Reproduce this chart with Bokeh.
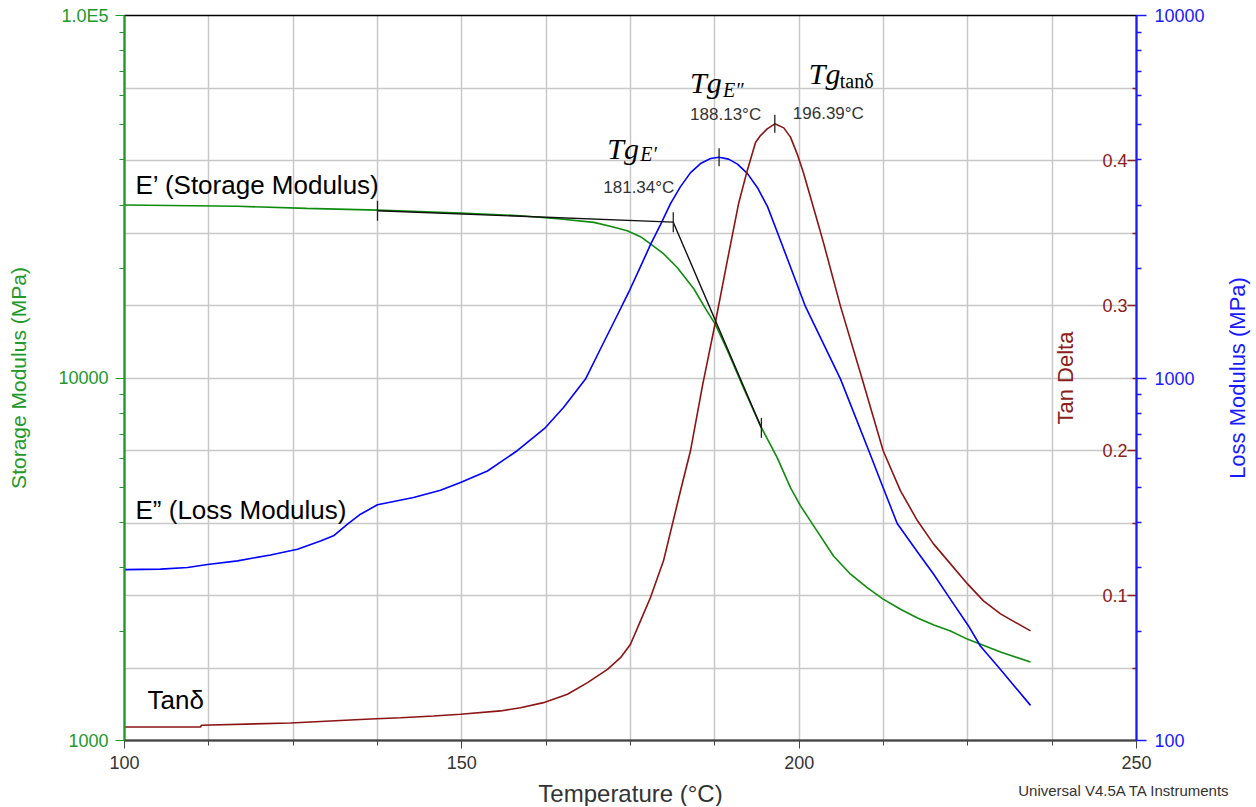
import math
from bokeh.plotting import figure
from bokeh.models import (Range1d, LinearAxis, LogAxis, LogScale, LinearScale,
                          FixedTicker, Grid, Label)
from bokeh.embed import file_html
from bokeh.resources import INLINE

# ---------------- data ----------------
storage_T = [100.0, 116.75, 126.98, 137.5, 149.8, 158.7, 164.62, 169.56, 172.0, 174.51,
             176.48, 177.96, 179.93, 181.92, 184.38, 186.12, 187.60, 189.38, 191.75, 194.27,
             196.74, 198.71, 200.2, 201.93, 205.09, 207.61, 210.13, 212.45, 215.02, 217.54,
             219.96, 222.43, 225.0, 226.43, 229.84, 234.29]
storage_E = [30000, 29760, 29380, 29040, 28490, 28040, 27460, 26870, 26230, 25490,
             24540, 23430, 21990, 20180, 17630, 15530, 14030, 11890, 9395, 7379,
             6029, 4985, 4440, 3966, 3229, 2875, 2635, 2455, 2301, 2178,
             2084, 2005, 1901, 1858, 1754, 1647]

loss_T = [100.0, 105.34, 109.34, 112.30, 116.75, 121.64, 125.64, 129.05, 130.98, 133.06,
          134.98, 137.50, 138.98, 142.84, 146.84, 149.80, 153.80, 158.21, 162.40, 165.07,
          168.33, 171.00, 172.78, 174.70, 176.48, 177.96, 179.45, 180.93, 182.41, 183.90,
          185.38, 186.86, 188.13, 189.53, 190.86, 192.34, 193.82, 195.31, 196.79, 200.94,
          206.13, 210.32, 212.45, 214.53, 217.54, 219.91, 222.18, 225.10, 226.88, 229.59,
          234.29]
loss_E = [296, 297, 300, 306, 313, 325, 337, 355, 367, 395,
          421, 447, 453, 468, 490, 515, 554, 630, 730, 829,
          993, 1251, 1457, 1719, 2028, 2332, 2649, 3027, 3372, 3686,
          3904, 4030, 4063, 4016, 3890, 3663, 3350, 2970, 2517, 1573,
          993, 630, 498, 397, 331, 288, 249, 207, 182, 159,
          125]

tan_T = [100.0, 111.26, 111.41, 124.6, 136.46, 140.91, 145.80, 149.80, 155.73, 158.70,
         162.10, 165.66, 168.63, 171.59, 173.52, 175.0, 176.48, 177.96, 179.89, 182.41,
         183.89, 185.67, 187.60, 189.38, 191.05, 192.30, 193.53, 194.27, 195.26, 196.39,
         197.72, 198.71, 199.70, 200.68, 201.68, 202.67, 203.65, 206.13, 209.34, 212.45,
         215.02, 217.54, 219.91, 222.43, 224.95, 227.32, 229.84, 234.29]
tan_delta = [0.0093, 0.0093, 0.0105, 0.0121, 0.0148, 0.0157, 0.0169, 0.0181, 0.0204, 0.0226,
             0.0261, 0.0319, 0.0399, 0.0491, 0.0571, 0.0664, 0.0825, 0.0986, 0.1239, 0.1722,
             0.1998, 0.2447, 0.2888, 0.3316, 0.3709, 0.3930, 0.4124, 0.4172, 0.4218, 0.4253,
             0.4225, 0.4161, 0.4046, 0.3908, 0.3747, 0.3586, 0.3425, 0.2994, 0.2493, 0.1998,
             0.1722, 0.1515, 0.1356, 0.1218, 0.1080, 0.0963, 0.0873, 0.0756]

# onset (tangent) construction on E'
onset_T = [137.5, 181.34, 194.4]
onset_E = [28940, 26910, 7285]

tg_storage = 181.34
tg_loss = 188.13
tg_tan = 196.39
loss_peak = 4063
tan_peak = 0.4253

x_ticks = [100, 150, 200, 250]
x_minor = [112.5, 125, 137.5, 162.5, 175, 187.5, 212.5, 225, 237.5]
x_grid = [112.5, 125, 137.5, 150, 162.5, 175, 187.5, 200, 212.5, 225, 237.5]
storage_ticks = [1000, 10000, 100000]
storage_tick_labels = ["1000", "10000", "1.0E5"]
loss_ticks = [100, 1000, 10000]
loss_tick_labels = ["100", "1000", "10000"]
tan_ticks = [0.1, 0.2, 0.3, 0.4]
tan_tick_labels = ["0.1", "0.2", "0.3", "0.4"]
tan_minor = [0.05, 0.15, 0.25, 0.35, 0.45]
tan_limits = [0.0, 0.5]

footer_text = "Universal V4.5A TA Instruments"

# ---------------- layout: the Bokeh frame fills the canvas, the chart box sits inside ----
W, H = 1256, 806
BOX_L, BOX_R, BOX_T, BOX_B = 124, 1136, 15, 740
t0, t1 = x_ticks[0], x_ticks[-1]
s0, s1 = storage_ticks[0], storage_ticks[-1]
l0, l1 = loss_ticks[0], loss_ticks[-1]
per_px_x = (t1 - t0) / (BOX_R - BOX_L)
dec_per_px = math.log10(s1 / s0) / (BOX_B - BOX_T)
tan_per_px = (tan_limits[1] - tan_limits[0]) / (BOX_B - BOX_T)
x_rng = Range1d(t0 - BOX_L * per_px_x, t1 + (W - BOX_R) * per_px_x)
y_rng = Range1d(s0 / 10 ** ((H - BOX_B) * dec_per_px), s1 * 10 ** (BOX_T * dec_per_px))
loss_rng = Range1d(l0 / 10 ** ((H - BOX_B) * dec_per_px), l1 * 10 ** (BOX_T * dec_per_px))
tan_rng = Range1d(tan_limits[0] - (H - BOX_B) * tan_per_px, tan_limits[1] + BOX_T * tan_per_px)

# ---------------- styles ----------------
GREEN = "#0e8c0e"
GREEN_AX = "#22992a"
BLUE = "#0000ff"
BLUE_AX = "#1a1aff"
RED = "#8b1414"
RED_AX = "#8b2020"
GRAY = "#333333"
GRID = "#c8c8c8"
FONT = "Liberation Sans"
SERIF = "Liberation Serif"

p = figure(width=W, height=H, x_range=x_rng, y_range=y_rng, y_axis_type="log",
           output_backend="svg", toolbar_location=None,
           min_border_left=0, min_border_right=0, min_border_top=0, min_border_bottom=0)
p.extra_y_ranges = {"loss": loss_rng, "tan": tan_rng}
p.extra_y_scales = {"loss": LogScale(), "tan": LinearScale()}
p.outline_line_color = None
p.background_fill_color = "white"
p.border_fill_color = "white"

# grids, limited to the chart box
p.xgrid.ticker = FixedTicker(ticks=x_grid)
p.xgrid.cross_bounds = (s0, s1)
p.xgrid.grid_line_color = GRID
p.xgrid.grid_line_width = 1.5
p.ygrid.visible = False
tan_grid = Grid(dimension=1, y_range_name="tan",
                ticker=FixedTicker(ticks=sorted(tan_ticks + tan_minor)),
                cross_bounds=(t0, t1),
                grid_line_color=GRID, grid_line_width=1.5)
p.add_layout(tan_grid)

# chart box border
p.quad(left=[t0], right=[t1], bottom=[s0], top=[s1], fill_color=None,
       line_color="black", line_width=1.5)

# bottom axis
xa = p.xaxis[0]
xa.fixed_location = s0
xa.bounds = (t0, t1)
xa.ticker = FixedTicker(ticks=x_ticks, minor_ticks=x_minor)
xa.axis_line_color = "#444444"
xa.axis_line_width = 2
xa.major_tick_line_color = "#444444"
xa.minor_tick_line_color = "#444444"
xa.major_tick_out = 8
xa.major_tick_in = 0
xa.minor_tick_out = 5
xa.minor_tick_in = 0
xa.major_label_text_font = FONT
xa.major_label_text_font_size = "18px"
xa.major_label_text_color = GRAY
xa.major_label_standoff = 7

# left axis: storage modulus
ya = p.yaxis[0]
ya.fixed_location = t0
ya.bounds = (s0, s1)
ya.ticker = FixedTicker(ticks=storage_ticks,
                        minor_ticks=[m * d for d in (1000, 10000) for m in range(2, 10)])
ya.major_label_overrides = dict(zip(storage_ticks, storage_tick_labels))
ya.axis_line_color = GREEN_AX
ya.axis_line_width = 2
ya.major_tick_line_color = GREEN_AX
ya.minor_tick_line_color = GREEN_AX
ya.major_tick_out = 9
ya.major_tick_in = 0
ya.minor_tick_out = 5
ya.minor_tick_in = 0
ya.major_label_text_font = FONT
ya.major_label_text_font_size = "18px"
ya.major_label_text_color = GREEN_AX
ya.major_label_standoff = 7

# tan delta axis at the right edge, labels inside the box
tan_axis = LinearAxis(y_range_name="tan", fixed_location=t1, bounds=tuple(tan_limits),
                      ticker=FixedTicker(ticks=tan_ticks, minor_ticks=tan_minor),
                      major_label_overrides=dict(zip(tan_ticks, tan_tick_labels)),
                      axis_line_color=None,
                      major_tick_out=9, major_tick_in=0, minor_tick_out=4, minor_tick_in=0,
                      major_tick_line_color=RED_AX, minor_tick_line_color=RED_AX,
                      major_tick_line_width=1.5, minor_tick_line_width=1.5,
                      major_label_text_font=FONT, major_label_text_font_size="18px",
                      major_label_text_color=RED_AX, major_label_standoff=0)
p.add_layout(tan_axis, "left")

# loss modulus axis at the right edge
loss_axis = LogAxis(y_range_name="loss", fixed_location=t1, bounds=(l0, l1),
                    ticker=FixedTicker(ticks=loss_ticks,
                                       minor_ticks=[m * d for d in (100, 1000) for m in range(2, 10)]),
                    major_label_overrides=dict(zip(loss_ticks, loss_tick_labels)),
                    axis_line_color=BLUE_AX, axis_line_width=2,
                    major_tick_out=10, major_tick_in=0, minor_tick_out=5, minor_tick_in=0,
                    major_tick_line_color=BLUE_AX, minor_tick_line_color=BLUE_AX,
                    major_tick_line_width=1.5, minor_tick_line_width=1.5,
                    major_label_text_font=FONT, major_label_text_font_size="18px",
                    major_label_text_color=BLUE_AX, major_label_standoff=8)
p.add_layout(loss_axis, "right")

# axis titles
def axis_title(text, x, y, rng, dx, dy, size, color, angle=0.0, align="center"):
    p.add_layout(Label(x=x, y=y, y_range_name=rng, x_offset=dx, y_offset=dy, text=text,
                       angle=angle, text_font=FONT, text_font_size=size, text_color=color,
                       text_align=align, text_baseline="middle"))

axis_title("Storage Modulus (MPa)", t0, 10000, "default", -106, 0, "21px", GREEN_AX, math.pi / 2)
axis_title("Tan Delta", t1, 0.25, "tan", -71, 0, "22px", RED_AX, math.pi / 2)
axis_title("Loss Modulus (MPa)", t1, 1000, "loss", 101, 0, "22px", BLUE_AX, math.pi / 2)
axis_title("Temperature (\u00b0C)", (t0 + t1) / 2, s0, "default", 0, -53, "24px", GRAY)
axis_title(footer_text, t1, s0, "default", 94, -50, "15px", GRAY, 0.0, "right")

# curves
p.line(storage_T, storage_E, line_color=GREEN, line_width=1.6)
p.line(loss_T, loss_E, y_range_name="loss", line_color=BLUE, line_width=1.6)
p.line(tan_T, tan_delta, y_range_name="tan", line_color=RED, line_width=1.6)
p.line(onset_T, onset_E, line_color="#111111", line_width=1.4)

# analysis markers
p.scatter(onset_T, onset_E, marker="dash", angle=math.pi / 2, size=20,
          line_color="#222222", line_width=1.3)
p.scatter([tg_loss], [loss_peak], y_range_name="loss", marker="dash", angle=math.pi / 2,
          size=18, line_color="#222222", line_width=1.3)
p.scatter([tg_tan], [tan_peak], y_range_name="tan", marker="dash", angle=math.pi / 2,
          size=18, line_color="#222222", line_width=1.3)

# curve names (anchored at the lower-left corner of the chart box)
def corner_label(text, dx, dy):
    p.add_layout(Label(x=t0, y=tan_limits[0], y_range_name="tan", x_offset=dx, y_offset=dy,
                       text=text, text_font=FONT, text_font_size="26px",
                       text_color="black", text_baseline="alphabetic", text_align="left"))

corner_label("E\u2019 (Storage Modulus)", 11, 556)
corner_label("E\u201d (Loss Modulus)", 11, 231)
corner_label("Tan\u03b4", 23, 41)

# Tg annotations anchored at their analysis points
def tg_label(x, y, rng, sub, sub_style, dx, dy, sdx, sdy, vdx, vdy, val):
    p.add_layout(Label(x=x, y=y, y_range_name=rng, x_offset=dx, y_offset=dy, text="Tg",
                       text_font=SERIF, text_font_size="30px", text_font_style="italic",
                       text_color="black", text_baseline="alphabetic"))
    p.add_layout(Label(x=x, y=y, y_range_name=rng, x_offset=sdx, y_offset=sdy, text=sub,
                       text_font=SERIF, text_font_size="20px", text_font_style=sub_style,
                       text_color="black", text_baseline="alphabetic"))
    p.add_layout(Label(x=x, y=y, y_range_name=rng, x_offset=vdx, y_offset=vdy,
                       text=f"{val:.2f}\u00b0C", text_font=FONT, text_font_size="17px",
                       text_color=GRAY, text_baseline="middle"))

tg_label(tg_storage, onset_E[1], "default", "E\u2032", "italic",
         -66, 74, -33, 68, -70, 35, tg_storage)
tg_label(tg_loss, loss_peak, "loss", "E\u2033", "italic",
         -29, 75, 4, 67, -29, 43, tg_loss)
tg_label(tg_tan, tan_peak, "tan", "tan\u03b4", "normal",
         34, 50, 65, 43, 18, 10, tg_tan)

open("out.html", "w").write(file_html(p, INLINE))
